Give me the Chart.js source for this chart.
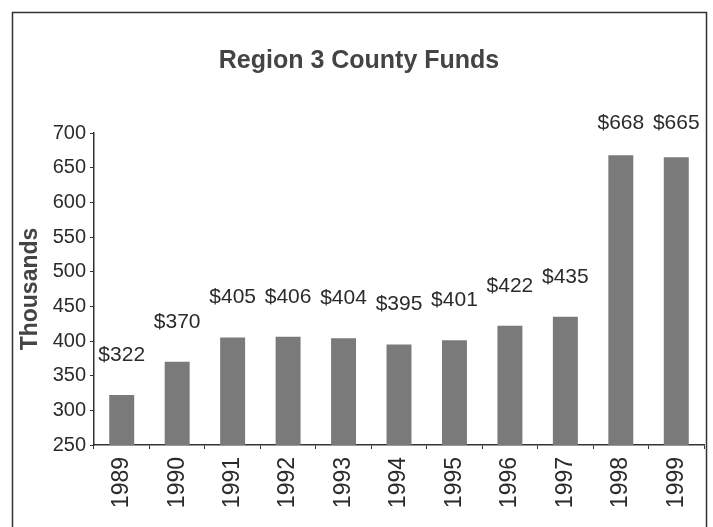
<!DOCTYPE html>
<html>
<head>
<meta charset="utf-8">
<script src="https://cdn.jsdelivr.net/npm/chart.js@4"></script>
<style>
  body { margin: 0; background: #fff; }
  #wrap { width: 713px; height: 527px; }
</style>
</head>
<body>
<div id="wrap"><canvas id="fundsChart"></canvas></div>
<script>
const years = ['1989', '1990', '1991', '1992', '1993', '1994', '1995', '1996', '1997', '1998', '1999'];
const funds = [322, 370, 405, 406, 404, 395, 401, 422, 435, 668, 665];
const yTicks = [250, 300, 350, 400, 450, 500, 550, 600, 650, 700];

const font = "'Liberation Sans', Arial, Helvetica, sans-serif";
const ink = '#2b2b2b';

// frame round the whole picture (bottom edge falls off the page)
const framePlugin = {
    id: 'frame',
    beforeDraw(chart) {
        const c = chart.ctx;
        c.save();
        c.fillStyle = '#fff';
        c.fillRect(0, 0, chart.width, chart.height);
        c.strokeStyle = '#333';
        c.lineWidth = 1.5;
        c.strokeRect(12.5, 12.5, 694, 600);
        c.restore();
    }
};

// "$322" style labels above each bar
const valueLabels = {
    id: 'valueLabels',
    afterDatasetsDraw(chart) {
        const c = chart.ctx;
        const meta = chart.getDatasetMeta(0);
        c.save();
        c.font = '21px ' + font;
        c.fillStyle = ink;
        c.textAlign = 'center';
        c.textBaseline = 'middle';
        meta.data.forEach((bar, i) => {
            const y = Math.max(bar.y - 40, 123);
            c.fillText('$' + funds[i], bar.x, y);
        });
        c.restore();
    }
};

const ctx = document.getElementById('fundsChart').getContext('2d');

new Chart(ctx, {
    type: 'bar',
    data: {
        labels: years,
        datasets: [{
            data: funds,
            backgroundColor: '#7a7a7a',
            borderWidth: 0,
            categoryPercentage: 1,
            barPercentage: 0.45
        }]
    },
    options: {
        responsive: true,
        maintainAspectRatio: false,
        animation: false,
        layout: { padding: { left: 14, right: 9, top: 0, bottom: 0 } },
        plugins: {
            legend: { display: false },
            tooltip: { enabled: false },
            title: {
                display: true,
                text: 'Region 3 County Funds',
                color: '#444',
                font: { family: font, size: 25, weight: 'bold' },
                padding: { top: 46, bottom: 57 }
            }
        },
        scales: {
            x: {
                grid: {
                    offset: true,
                    drawOnChartArea: false,
                    drawTicks: true,
                    tickLength: 4,
                    color: '#333'
                },
                border: { color: '#333', width: 1.5 },
                ticks: {
                    color: ink,
                    font: { family: font, size: 23 },
                    maxRotation: 90,
                    minRotation: 90,
                    padding: 8
                },
                afterFit(scale) { scale.height = 82; }
            },
            y: {
                min: 250,
                max: 700,
                afterBuildTicks(scale) {
                    scale.ticks = yTicks.map(v => ({ value: v }));
                },
                grid: {
                    drawOnChartArea: false,
                    drawTicks: true,
                    tickLength: 4,
                    color: '#333'
                },
                border: { color: '#333', width: 1.5 },
                ticks: {
                    color: ink,
                    font: { family: font, size: 20 },
                    padding: 4
                },
                title: {
                    display: true,
                    text: 'Thousands',
                    color: '#444',
                    font: { family: font, size: 23, weight: 'bold' },
                    padding: { top: 3, bottom: 0 }
                },
                afterFit(scale) { scale.width = 80; }
            }
        }
    },
    plugins: [framePlugin, valueLabels]
});
</script>
</body>
</html>
